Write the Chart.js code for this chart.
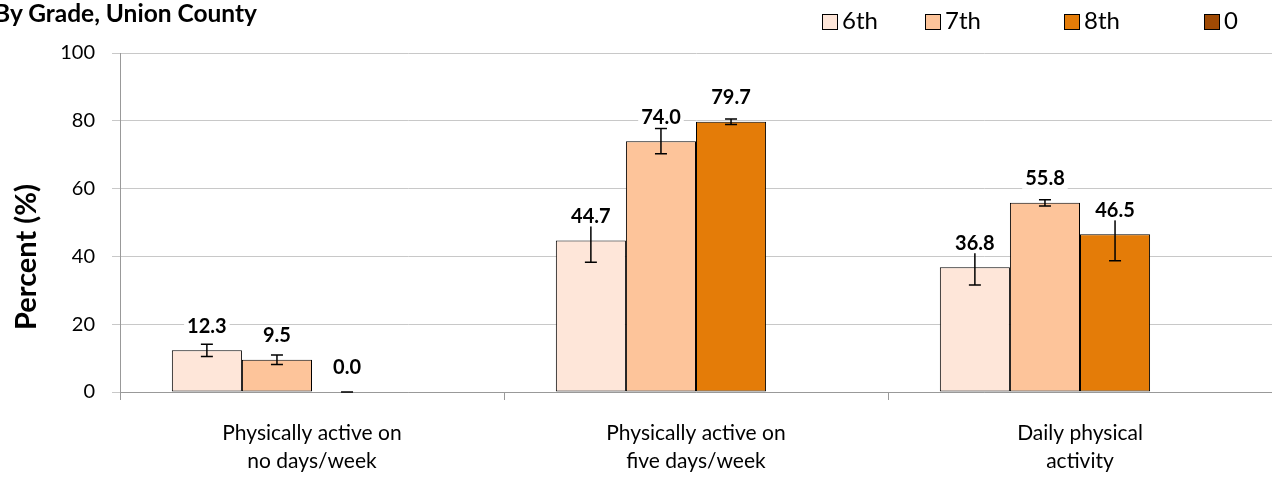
<!DOCTYPE html>
<html>
<head>
<meta charset="utf-8">
<script src="https://cdn.jsdelivr.net/npm/chart.js"></script>
<style>
  body { margin: 0; background: #fff; font-family: Lato, sans-serif; }
  #wrap { position: relative; width: 1272px; height: 482px; overflow: hidden; }
  #title { position: absolute; left: -6px; top: -2px; font-weight: bold; font-size: 24.5px; color: #000; }
  .leg { position: absolute; top: 5px; font-size: 24px; color: #000; line-height: 30px; white-space: nowrap; }
  .leg span { display: inline-block; width: 14px; height: 14px; border: 1px solid #000; margin-right: 4px; vertical-align: -1px; }
</style>
</head>
<body>
<div id="wrap">
  <canvas id="myChart" width="1272" height="482"></canvas>
  <div id="title">By Grade, Union County</div>
  <div id="legend"></div>
</div>
<script>
const categories = [
  ['Physically active on', 'no days/week'],
  ['Physically active on', 'five days/week'],
  ['Daily physical', 'activity']
];
const gradeNames = ['6th', '7th', '8th', '0'];
const grade6 = [12.3, 44.7, 36.8];
const grade7 = [9.5, 74.0, 55.8];
const grade8 = [0.0, 79.7, 46.5];
const grade0 = [null, null, null];
const err6 = [1.8, 6.4, 5.2];
const err7 = [1.4, 3.7, 0.9];
const err8 = [0, 0.8, 7.8];
const err0 = [null, null, null];
const colors = ['#FEE6D9', '#FDC49A', '#E47C08', '#A04A04'];
const yTicks = [0, 20, 40, 60, 80, 100];
const yTitle = 'Percent (%)';

// html legend, Excel spacing is uneven so place by hand
const legendX = [822, 925, 1064, 1204];
const legend = document.getElementById('legend');
gradeNames.forEach((n, i) => {
  const d = document.createElement('div');
  d.className = 'leg';
  d.style.left = legendX[i] + 'px';
  d.innerHTML = '<span style="background:' + colors[i] + '"></span>' + n;
  legend.appendChild(d);
});

const errs = [err6, err7, err8, err0];

const errorBars = {
  id: 'errorBars',
  afterDatasetsDraw(chart) {
    const ctx = chart.ctx;
    const y = chart.scales.y;
    ctx.save();
    ctx.strokeStyle = '#000';
    ctx.lineWidth = 1.5;
    chart.data.datasets.forEach((ds, di) => {
      const meta = chart.getDatasetMeta(di);
      meta.data.forEach((bar, i) => {
        const v = ds.data[i];
        const e = errs[di][i];
        if (v === null || e === null) return;
        const top = y.getPixelForValue(v + e);
        const bot = y.getPixelForValue(v - e);
        ctx.beginPath();
        ctx.moveTo(bar.x, top); ctx.lineTo(bar.x, bot);
        ctx.moveTo(bar.x - 6, top); ctx.lineTo(bar.x + 6, top);
        ctx.moveTo(bar.x - 6, bot); ctx.lineTo(bar.x + 6, bot);
        ctx.stroke();
      });
    });
    // value labels with white box over the lines
    ctx.font = 'bold 20px Lato';
    ctx.textAlign = 'center';
    ctx.textBaseline = 'middle';
    chart.data.datasets.forEach((ds, di) => {
      const meta = chart.getDatasetMeta(di);
      meta.data.forEach((bar, i) => {
        const v = ds.data[i];
        if (v === null) return;
        const txt = v.toFixed(1);
        const ly = y.getPixelForValue(v) - 24;
        const w = ctx.measureText(txt).width;
        ctx.fillStyle = '#fff';
        ctx.fillRect(bar.x - w / 2 - 3, ly - 10, w + 6, 20);
        ctx.fillStyle = '#000';
        ctx.fillText(txt, bar.x, ly);
      });
    });
    // y title sits lower than the plot centre in the original
    ctx.font = 'bold 29px Lato';
    ctx.translate(27, 257);
    ctx.rotate(-Math.PI / 2);
    ctx.fillText(yTitle, 0, 0);
    ctx.restore();
  }
};

const ctx = document.getElementById('myChart');
new Chart(ctx, {
  type: 'bar',
  data: {
    labels: categories,
    datasets: gradeNames.map((n, i) => ({
      label: n,
      data: [grade6, grade7, grade8, grade0][i],
      backgroundColor: colors[i],
      borderColor: '#000',
      borderWidth: 1,
      borderSkipped: false,
      categoryPercentage: 0.73,
      barPercentage: 1.0
    }))
  },
  options: {
    responsive: false,
    animation: false,
    layout: { padding: { left: 0, right: 0, top: 53, bottom: 0 } },
    plugins: { legend: { display: false }, tooltip: { enabled: false } },
    scales: {
      x: {
        afterFit: s => { s.height = 90; },
        grid: { offset: true, drawOnChartArea: false, tickLength: 8, color: '#999' },
        border: { color: '#999' },
        ticks: { font: { family: 'Lato', size: 21, lineHeight: 1.33 }, color: '#000', padding: 19 }
      },
      y: {
        min: 0, max: 100,
        afterFit: s => { s.width = 120; },
        afterBuildTicks: s => { s.ticks = yTicks.map(v => ({ value: v })); },
        grid: { color: '#c8c8c8', tickLength: 8 },
        border: { color: '#999' },
        ticks: { font: { family: 'Lato', size: 20 }, color: '#000', padding: 17 }
      }
    }
  },
  plugins: [errorBars]
});
</script>
</body>
</html>
